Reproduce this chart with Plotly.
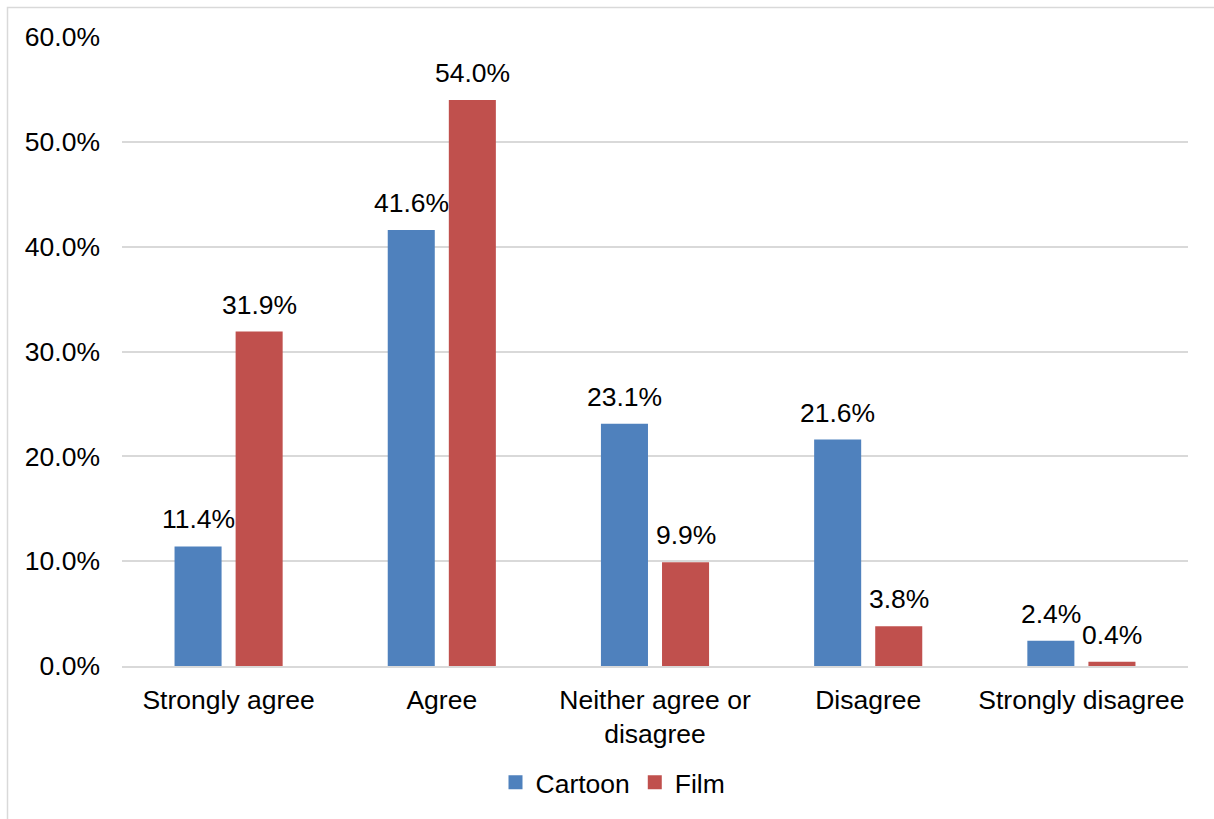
import plotly.graph_objects as go

# Survey responses by media type
categories = ["Strongly agree", "Agree", "Neither agree or<br>disagree", "Disagree", "Strongly disagree"]
cartoon = [11.4, 41.6, 23.1, 21.6, 2.4]
film = [31.9, 54.0, 9.9, 3.8, 0.4]
y_ticks = [0, 10, 20, 30, 40, 50, 60]
y_tick_labels = [f"{v:.1f}%" for v in y_ticks]

W, H = 1214, 819
ML, MR, MT, MB = 122, 26, 37, 151
plot_w = W - ML - MR
plot_h = H - MT - MB

BLUE = "#4F81BD"
RED = "#C0504D"
FONT = "Liberation Sans, Arial, sans-serif"
FS = 26.5

BARGAP = 0.427
cat_w = plot_w / len(categories)
slot = (1 - BARGAP) * cat_w / 2

fig = go.Figure()
fig.add_trace(go.Bar(name="Cartoon", x=categories, y=cartoon, showlegend=False,
                     marker=dict(color=BLUE, line=dict(width=0))))
fig.add_trace(go.Bar(name="Film", x=categories, y=film, showlegend=False,
                     marker=dict(color=RED, line=dict(width=0))))

# legend entries with square swatches
for name, color in (("Cartoon", BLUE), ("Film", RED)):
    fig.add_trace(go.Scatter(x=[None], y=[None], mode="markers", name=name,
                             marker=dict(symbol="square", size=14, color=color)))

# value labels above each bar
annotations = []
for series, shift in ((cartoon, -slot / 2), (film, slot / 2)):
    for cat, val in zip(categories, series):
        annotations.append(dict(
            x=cat, y=val, xref="x", yref="y", text=f"{val:.1f}%",
            showarrow=False, xshift=shift, yshift=10, yanchor="bottom",
            font=dict(family=FONT, size=FS, color="#000000"),
        ))

# outer chart border
x0 = (7.5 - ML) / plot_w
y1 = (H - MB - 7.5) / plot_h
shapes = [dict(type="rect", xref="paper", yref="paper", x0=x0, x1=1.2, y0=-0.5, y1=y1,
               line=dict(color="#D9D9D9", width=1.5), fillcolor="rgba(0,0,0,0)", layer="below")]

fig.update_layout(
    width=W, height=H,
    margin=dict(l=ML, r=MR, t=MT, b=MB),
    paper_bgcolor="white", plot_bgcolor="white",
    barmode="group", bargap=BARGAP, bargroupgap=0.23,
    font=dict(family=FONT, size=FS, color="#000000"),
    showlegend=True,
    legend=dict(orientation="h", x=(613 - ML) / plot_w, xanchor="center",
                y=-(785 - (H - MB)) / plot_h, yanchor="middle",
                font=dict(family=FONT, size=FS, color="#000000"),
                itemwidth=30, traceorder="normal"),
    annotations=annotations,
    shapes=shapes,
    xaxis=dict(showgrid=False, showline=True, linecolor="#D9D9D9", linewidth=1.5,
               ticks="", tickfont=dict(family=FONT, size=FS, color="#000000"),
               ticklabelstandoff=9),
    yaxis=dict(range=[0, 60], tickvals=y_ticks, ticktext=y_tick_labels,
               showgrid=True, gridcolor="#D9D9D9", gridwidth=1.5,
               zeroline=False, showline=False, ticks="",
               tickfont=dict(family=FONT, size=FS, color="#000000"),
               ticklabelstandoff=21),
)

fig.write_html("out.html")
